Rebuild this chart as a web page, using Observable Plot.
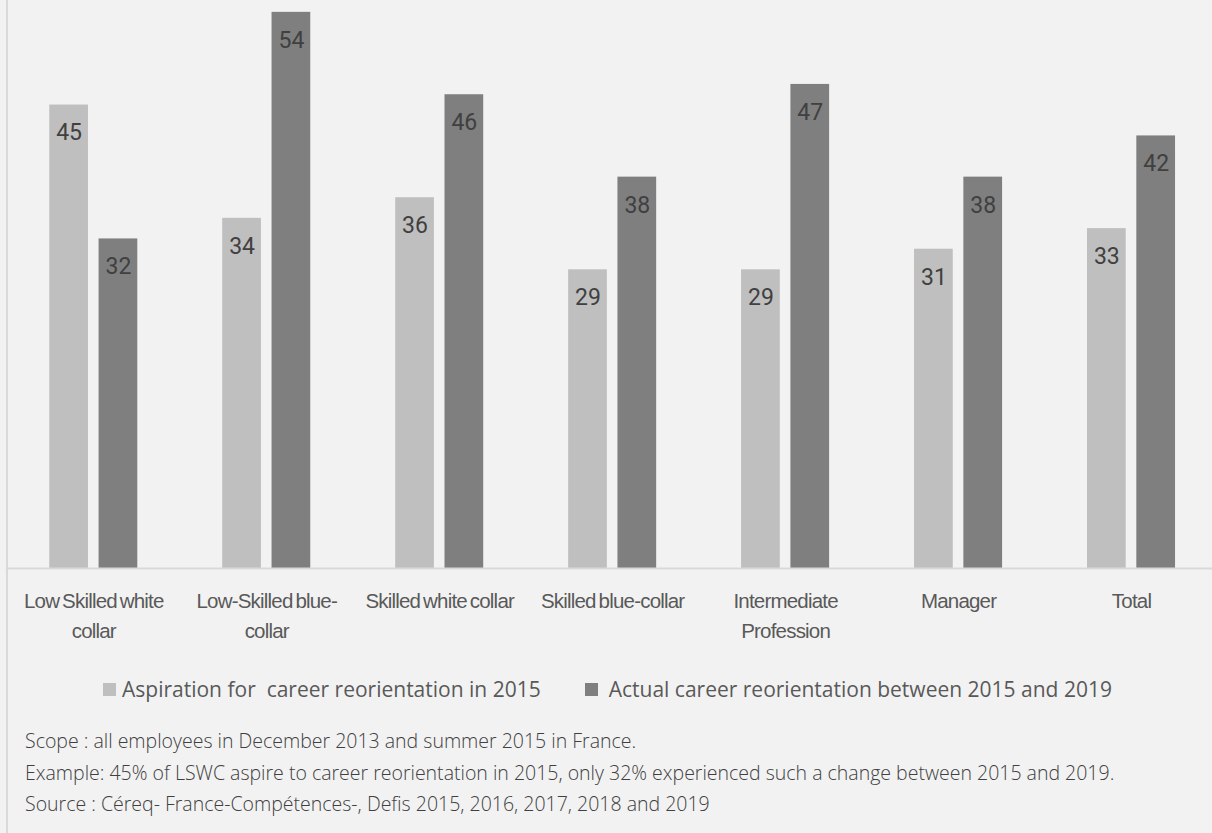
<!DOCTYPE html>
<html>
<head>
<meta charset="utf-8">
<script src="https://cdn.jsdelivr.net/npm/d3@7"></script>
<script src="https://cdn.jsdelivr.net/npm/@observablehq/plot@0.6"></script>
<style>
  html, body { margin: 0; padding: 0; background: #f2f2f2; }
  #wrap { position: relative; width: 1212px; height: 833px; overflow: hidden; background: #f2f2f2; }
  #border { position: absolute; left: 6px; top: 0; width: 2px; height: 833px; background: #d9d9d9; }
  #chart { position: absolute; left: 0; top: 0; width: 1218px; }
  #chart svg { max-width: none !important; }
  #chart g[aria-label="fx-axis tick label"] text { letter-spacing: -0.8px; word-spacing: -2px; }
  #legend { position: absolute; left: 103px; top: 676px; display: flex; align-items: center;
            font-family: "Open Sans", sans-serif; font-size: 21px; color: #595959; line-height: 26px; white-space: pre; }
  .item { display: flex; align-items: center; }
  .sw { width: 13px; height: 13px; margin-right: 6px; }
  #notes { position: absolute; left: 25px; top: 725px; font-family: "Open Sans", sans-serif; font-weight: 300; font-size: 19.5px;
           color: #404040; line-height: 31.5px; white-space: nowrap; }
</style>
</head>
<body>
<div id="wrap">
  <div id="border"></div>
  <div id="chart"></div>
  <div id="legend"></div>
  <div id="notes"></div>
</div>
<script>
const categories = ["Low Skilled white collar", "Low-Skilled blue-collar", "Skilled white collar", "Skilled blue-collar", "Intermediate Profession", "Manager", "Total"];
const tickLabels = ["Low Skilled white\ncollar", "Low-Skilled blue-\ncollar", "Skilled white collar", "Skilled blue-collar", "Intermediate\nProfession", "Manager", "Total"];
const series = ["Aspiration for  career reorientation in 2015", "Actual career reorientation between 2015 and 2019"];
const aspiration = [45, 34, 36, 29, 29, 31, 33];
const actual = [32, 54, 46, 38, 47, 38, 42];
const colors = ["#bfbfbf", "#7f7f7f"];
const notes = [
  "Scope : all employees in December 2013 and summer 2015 in France.",
  "Example: 45% of LSWC aspire to career reorientation in 2015, only 32% experienced such a change between 2015 and 2019.",
  "Source : Céreq- France-Compétences-, Defis 2015, 2016, 2017, 2018 and 2019"
];

const data = [];
categories.forEach((c, i) => {
  data.push({category: c, series: series[0], value: aspiration[i]});
  data.push({category: c, series: series[1], value: actual[i]});
});

const labelFont = "'Liberation Sans', Arial, sans-serif";

const chart = Plot.plot({
  width: 1218,
  height: 660,
  marginLeft: 6.8,
  marginRight: 0.5,
  marginTop: 0,
  marginBottom: 92,
  style: {background: "transparent", overflow: "visible", maxWidth: "none"},
  fx: {domain: categories, paddingInner: 0.491, paddingOuter: 0.2455, round: false, label: null},
  x: {domain: series, paddingInner: 0.215, paddingOuter: 0, round: false, axis: null},
  y: {domain: [0, 55.15], axis: null},
  color: {domain: series, range: colors},
  marks: [
    Plot.barY(data, {fx: "category", x: "series", y: "value", fill: "series"}),
    Plot.text(data, {fx: "category", x: "series", y: "value", text: d => String(d.value), dy: 28,
      lineAnchor: "middle", fill: "#404040", fontSize: 23, fontFamily: "Roboto, sans-serif"}),
    Plot.frame({anchor: "bottom", facet: "super", stroke: "#d9d9d9", strokeWidth: 2, insetLeft: -43, insetRight: -50}),
    Plot.axisFx({anchor: "bottom", tickSize: 0, tickPadding: 18.6, label: null,
      tickFormat: d => tickLabels[categories.indexOf(d)],
      fontSize: 20.5, fontFamily: labelFont, fill: "#595959", lineHeight: 1.45})
  ]
});
document.getElementById("chart").appendChild(chart);

const legend = document.getElementById("legend");
series.forEach((s, i) => {
  const item = document.createElement("div");
  item.className = "item";
  if (i > 0) item.style.marginLeft = "44px";
  const sw = document.createElement("div");
  sw.className = "sw";
  sw.style.background = colors[i];
  if (i > 0) sw.style.marginRight = "11px";
  const t = document.createElement("span");
  t.textContent = s;
  item.appendChild(sw);
  item.appendChild(t);
  legend.appendChild(item);
});

const notesEl = document.getElementById("notes");
notes.forEach(n => {
  const d = document.createElement("div");
  d.textContent = n;
  notesEl.appendChild(d);
});
</script>
</body>
</html>
